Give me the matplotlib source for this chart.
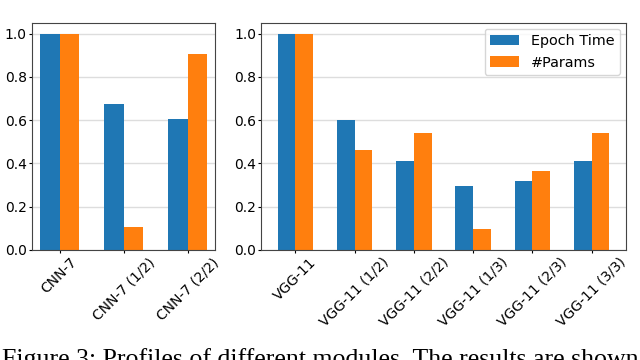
import numpy as np
import matplotlib
matplotlib.use('Agg')
import matplotlib.pyplot as plt

# values
cnn_labels = ['CNN-7', 'CNN-7 (1/2)', 'CNN-7 (2/2)']
cnn_time = [1.0, 0.675, 0.605]
cnn_params = [1.0, 0.107, 0.905]

vgg_labels = ['VGG-11', 'VGG-11 (1/2)', 'VGG-11 (2/2)',
              'VGG-11 (1/3)', 'VGG-11 (2/3)', 'VGG-11 (3/3)']
vgg_time = [1.0, 0.60, 0.41, 0.295, 0.32, 0.41]
vgg_params = [1.0, 0.462, 0.54, 0.098, 0.365, 0.54]

caption = 'Figure 3: Profiles of different modules. The results are shown'


def draw_panel(ax, labels, t, p, legend=False):
    x = np.arange(len(labels))
    w = 0.3
    ax.bar(x - w / 2, t, w, color='#1f77b4', label='Epoch Time')
    ax.bar(x + w / 2, p, w, color='#ff7f0e', label='#Params')
    ax.set_xticks(x)
    ax.set_xticklabels(labels, rotation=45)
    ax.set_yticks([0.0, 0.2, 0.4, 0.6, 0.8, 1.0])
    ax.set_ylim(0, 1.05)
    ax.grid(axis='y', color='#dddddd', linewidth=1)
    ax.set_axisbelow(True)
    ax.tick_params(labelsize=10, length=2.5, pad=1.2)
    for s in ax.spines.values():
        s.set_color('#444444')
    if legend:
        ax.legend(loc='upper right', fontsize=10.4, borderaxespad=0.4)


def main():
    fig = plt.figure(figsize=(6.4, 3.6), dpi=100)
    ax1 = fig.add_axes([0.05, 0.3056, 0.286, 0.631])
    ax2 = fig.add_axes([0.408, 0.3056, 0.570, 0.631])
    draw_panel(ax1, cnn_labels, cnn_time, cnn_params)
    draw_panel(ax2, vgg_labels, vgg_time, vgg_params, legend=True)
    # caption is cut off at the bottom edge in the reference as well
    fig.text(0.003, -0.016, caption, family='Liberation Serif', fontsize=18.6,
             va='baseline', ha='left')
    fig.savefig('out.png', dpi=100)


if __name__ == "__main__":
    main()
